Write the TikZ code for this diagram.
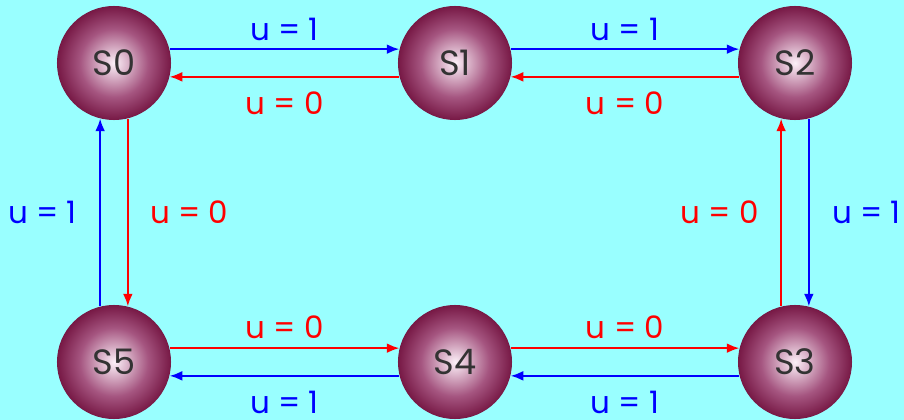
\documentclass[tikz,border=0pt]{standalone}
\usepackage{fontspec}
\setmainfont{Poppins}
\definecolor{bgcyan}{RGB}{153,255,255}
\definecolor{darkberry}{RGB}{100,0,45}
\definecolor{palepink}{RGB}{252,240,248}
\definecolor{midberry}{RGB}{165,85,128}
\colorlet{oneblue}{blue}
\colorlet{zerored}{red}
\usetikzlibrary{calc, positioning, arrows.meta}
\pgfdeclareradialshading{ball}{\pgfpoint{0bp}{0bp}}{%
  color(0bp)=(palepink); color(15bp)=(midberry); color(29bp)=(darkberry);
  color(100bp)=(darkberry)}

\begin{document}
\begin{tikzpicture}[x=0.025cm, y=-0.025cm,
    state/.style={circle, minimum size=2.85cm, inner sep=0pt,
      shading=ball, text=black!80, font=\fontsize{25}{29}\selectfont},
    onearrow/.style={-{Latex[length=9pt, width=7pt]}, oneblue, line width=1.4pt},
    zeroarrow/.style={-{Latex[length=9pt, width=7pt]}, zerored, line width=1.4pt},
    lbl/.style={font=\fontsize{22}{26}\selectfont, inner sep=0pt},
  ]
    \fill[bgcyan] (0,0) rectangle (904,420);
    \useasboundingbox (0,0) rectangle (904,420);

    \node[state] (s0) at (114, 63) {S0};
    \node[state] (s1) at (455, 63) {S1};
    \node[state] (s2) at (795, 63) {S2};
    \node[state] (s3) at (795, 362) {S3};
    \node[state] (s4) at (455, 362) {S4};
    \node[state] (s5) at (114, 362) {S5};

    % top row
    \draw[onearrow] (s0.14) -- node[lbl, above=5pt, text=oneblue] {u = 1} (s1.166);
    \draw[zeroarrow] (s1.194) -- node[lbl, below=10pt, text=zerored] {u = 0} (s0.346);
    \draw[onearrow] (s1.14) -- node[lbl, above=5pt, text=oneblue] {u = 1} (s2.166);
    \draw[zeroarrow] (s2.194) -- node[lbl, below=10pt, text=zerored] {u = 0} (s1.346);

    % sides
    \draw[onearrow] (s5.104) -- node[lbl, left=0.56cm, text=oneblue] {u = 1} (s0.256);
    \draw[zeroarrow] (s0.284) -- node[lbl, right=0.53cm, text=zerored] {u = 0} (s5.76);
    \draw[onearrow] (s2.284) -- node[lbl, right=0.56cm, text=oneblue] {u = 1} (s3.76);
    \draw[zeroarrow] (s3.104) -- node[lbl, left=0.53cm, text=zerored] {u = 0} (s2.256);

    % bottom row
    \draw[zeroarrow] (s5.14) -- node[lbl, above=6pt, text=zerored] {u = 0} (s4.166);
    \draw[onearrow] (s4.194) -- node[lbl, below=10pt, text=oneblue] {u = 1} (s5.346);
    \draw[zeroarrow] (s4.14) -- node[lbl, above=6pt, text=zerored] {u = 0} (s3.166);
    \draw[onearrow] (s3.194) -- node[lbl, below=10pt, text=oneblue] {u = 1} (s4.346);
  \end{tikzpicture}
\end{document}
